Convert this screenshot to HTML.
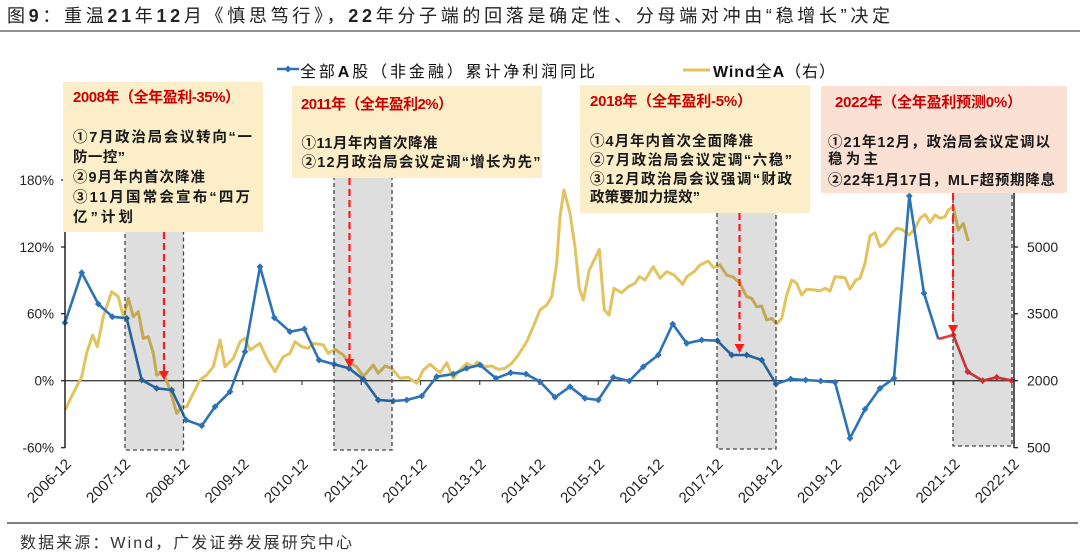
<!DOCTYPE html>
<html><head><meta charset="utf-8"><style>
html,body{margin:0;padding:0;background:#fff;}
svg{display:block;}
text{font-family:"Liberation Sans","Noto Sans CJK SC",sans-serif;}
</style></head><body>
<svg width="1080" height="556" viewBox="0 0 1080 556" xmlns="http://www.w3.org/2000/svg">
<defs>
<marker id="db" markerWidth="8" markerHeight="8" refX="4" refY="4" markerUnits="userSpaceOnUse"><path d="M4 0.6 L7.4 4 L4 7.4 L0.6 4Z" fill="#2b72b7"/></marker>
<marker id="dr" markerWidth="8" markerHeight="8" refX="4" refY="4" markerUnits="userSpaceOnUse"><path d="M4 0.6 L7.4 4 L4 7.4 L0.6 4Z" fill="#e83a3a"/></marker>
</defs>

<!-- Title -->
<text x="7" y="22" font-size="18" fill="#222" textLength="883" lengthAdjust="spacing">图<tspan font-weight="bold">9</tspan>：重温<tspan font-weight="bold">21</tspan>年<tspan font-weight="bold">12</tspan>月《慎思笃行》，<tspan font-weight="bold">22</tspan>年分子端的回落是确定性、分母端对冲由“稳增长”决定</text>
<line x1="0" y1="31" x2="1080" y2="31" stroke="#8f8f8f" stroke-width="2"/>

<!-- Legend -->
<line x1="277" y1="69" x2="299" y2="69" stroke="#2b72b7" stroke-width="2.5"/>
<path d="M288 65.5 L291.5 69 L288 72.5 L284.5 69Z" fill="#2b72b7"/>
<text x="300" y="77" font-size="16" fill="#111" textLength="295" lengthAdjust="spacing">全部<tspan font-weight="bold">A</tspan>股（非金融）累计净利润同比</text>
<line x1="683" y1="70" x2="710" y2="70" stroke="#e2c35f" stroke-width="3"/>
<text x="713" y="77" font-size="16" fill="#111" textLength="122" lengthAdjust="spacing"><tspan font-weight="bold">Wind</tspan>全<tspan font-weight="bold">A</tspan>（右）</text>

<!-- x axis line -->
<line x1="65" y1="380.7" x2="1014" y2="380.7" stroke="#444" stroke-width="1.3"/>
<g stroke="#444" stroke-width="1.2">
<line x1="125" y1="380.7" x2="125" y2="385"/>
<line x1="183.5" y1="380.7" x2="183.5" y2="385"/>
<line x1="242.75" y1="380.7" x2="242.75" y2="385"/>
<line x1="302" y1="380.7" x2="302" y2="385"/>
<line x1="361.25" y1="380.7" x2="361.25" y2="385"/>
<line x1="420.5" y1="380.7" x2="420.5" y2="385"/>
<line x1="479.75" y1="380.7" x2="479.75" y2="385"/>
<line x1="539" y1="380.7" x2="539" y2="385"/>
<line x1="598.25" y1="380.7" x2="598.25" y2="385"/>
<line x1="657.5" y1="380.7" x2="657.5" y2="385"/>
<line x1="716.75" y1="380.7" x2="716.75" y2="385"/>
<line x1="776" y1="380.7" x2="776" y2="385"/>
<line x1="835.25" y1="380.7" x2="835.25" y2="385"/>
<line x1="894.5" y1="380.7" x2="894.5" y2="385"/>
<line x1="953.75" y1="380.7" x2="953.75" y2="385"/>
</g>

<!-- Wind All A (yellow) -->
<polyline fill="none" stroke="#e2c35f" stroke-width="3" stroke-linejoin="round" points="65,410 73.3,393 81.7,376.7 86.7,353 92.7,335 97.3,346.7 103.3,316.7 111.7,291.7 118.3,296.7 123.3,316.7 128.3,298.3 133.3,316.7 138.3,311.7 143.3,338.3 148.3,336.7 153.3,353.3 156.7,375 160,373.3 165,376.7 170,390 176.7,413.3 181.7,406.7 186.7,406.7 193.3,393.3 200,380 206.7,375 213.3,366.7 220,340 225,366.7 233.3,358.3 240,341.7 245,338.3 250,350 260,343.3 266.7,358.3 275,371.7 283.3,356.7 290,353.3 295,341.7 301.7,346.7 308.3,348.3 313.3,343.3 323.3,345 328.3,353.3 335,349.3 343.3,355 350,363.3 356.7,366.7 363.3,376.7 373.3,365 378.3,373.3 385,366 391.7,368.3 400,378.3 408.3,377.3 416.7,383.3 423.3,370 430,364.3 436.7,370 440,372.7 446.7,362.7 453.3,378.3 460,370 466.7,363.3 473.3,366.7 477.3,362 485,366.7 491.7,366 498.3,369.3 505,368.3 511.7,363.3 518.3,355 526.7,341.7 533.3,326.7 540,310 546.7,305 551.7,296.7 556.7,263.3 560,216.7 564,190 570,213.3 575,246.7 579.3,288.3 583.3,300 589.3,270 595,258.3 599.3,249.3 604.3,310 609,315 614,288.3 621.7,292.7 628.3,286.7 635,283.3 639.3,276.7 645,280 653.3,266.7 660,278.3 666.7,271.7 674,275 682.7,284.3 686.7,276.7 694,271.7 700,265 708.3,261 713.3,267.5 720,265 726.7,275 733.3,277.3 740,283.3 746.7,296.7 751.7,298.3 756.7,306.7 761.7,306 766.7,320 771.7,318.3 776.7,324 781.7,318.3 786.7,295 791.7,280 796.7,283.3 801.7,295 806.7,289.3 815,290 820,291 825,288.3 830,291 835,276.7 840,277.3 845,277.7 850,289.3 856,280 860,278.3 865,263.3 870,236 875,232.7 880,246.7 885,243.3 891.7,233.3 896.7,228.3 901.7,229.3 909.3,235 915,228.3 920,218.3 925,214.3 930,222.7 935,215 940,218.3 945,216.7 948.3,210 953.3,206.7 958.3,230 963.3,223.3 968.3,241"/>

<!-- Blue series -->
<polyline fill="none" stroke="#2b72b7" stroke-width="2.6" stroke-linejoin="round" marker-start="url(#db)" marker-mid="url(#db)" points="65,322.7 81.7,272.7 98.3,304 112.3,316.7 126.7,318.3 141.7,380 156.7,388.3 171.7,390 186,420 201.7,425.7 215,406.7 230,391.7 245,351.7 260,266.7 274.3,317.7 290,331.7 304.3,329 319,360 334,364.3 349,368.3 363.3,379.3 378.3,400 393.3,401 406.7,400 421.7,396 436.7,376.7 453.3,374 466.7,368.3 480,365 496,378.3 510.7,372.7 526,374 540,381.7 555,397.3 570,386.7 585,398.3 598.3,400 613.3,377.3 629.3,381 643.3,366.7 658.3,355 672.7,324 686.7,343.3 701.7,340 717.3,340.7 731.7,355 746.7,355 761.7,360 776,384 790.7,379 805.7,380 820.7,381 835,382.3 850,438.3 865,409.3 880,388.3 894,378.3 909.3,196 924,293.3 938.3,339"/>
<!-- Red series -->
<polyline fill="none" stroke="#e83a3a" stroke-width="2.6" stroke-linejoin="round" marker-mid="url(#dr)" marker-end="url(#dr)" points="938.3,339 953.3,335 967.7,371.7 982.7,380.7 996.7,377.3 1011.7,380.7"/>

<!-- Gray shaded regions -->
<g fill="#000" fill-opacity="0.13" stroke="#444" stroke-width="1.3" stroke-dasharray="4,3">
<rect x="125" y="170" width="58.5" height="280"/>
<rect x="334" y="150" width="58" height="300"/>
<rect x="717" y="190" width="59" height="259"/>
<rect x="953" y="170" width="59" height="276"/>
</g>

<!-- Red arrows -->
<g stroke="#ff1a1a" stroke-width="2.2" stroke-dasharray="7,4">
<line x1="164" y1="232" x2="164" y2="372"/>
<line x1="349.5" y1="178" x2="349.5" y2="360"/>
<line x1="739.5" y1="213" x2="739.5" y2="345"/>
<line x1="953" y1="193" x2="953" y2="326"/>
</g>
<g fill="#ff1a1a">
<polygon points="159,371 169,371 164,380"/>
<polygon points="344.5,359 354.5,359 349.5,368"/>
<polygon points="734.5,344 744.5,344 739.5,353"/>
<polygon points="948,325 958,325 953,334"/>
</g>

<!-- Left axis -->
<line x1="65" y1="180" x2="65" y2="448" stroke="#222" stroke-width="1.5"/>
<g stroke="#222" stroke-width="1.3">
<line x1="61" y1="180" x2="65" y2="180"/>
<line x1="61" y1="247" x2="65" y2="247"/>
<line x1="61" y1="313.7" x2="65" y2="313.7"/>
<line x1="61" y1="380.7" x2="65" y2="380.7"/>
<line x1="61" y1="447.7" x2="65" y2="447.7"/>
</g>
<g font-size="13.5" fill="#222" text-anchor="end">
<text x="54" y="185">180%</text>
<text x="54" y="252">120%</text>
<text x="54" y="318.7">60%</text>
<text x="54" y="385.7">0%</text>
<text x="54" y="452.7">-60%</text>
</g>

<!-- Right axis -->
<line x1="1014" y1="180" x2="1014" y2="448" stroke="#222" stroke-width="1.5"/>
<g stroke="#222" stroke-width="1.3">
<line x1="1014" y1="247" x2="1018" y2="247"/>
<line x1="1014" y1="313.7" x2="1018" y2="313.7"/>
<line x1="1014" y1="380.7" x2="1018" y2="380.7"/>
<line x1="1014" y1="447.7" x2="1018" y2="447.7"/>
</g>
<g font-size="14" fill="#222">
<text x="1027" y="252">5000</text>
<text x="1027" y="318.7">3500</text>
<text x="1027" y="385.7">2000</text>
<text x="1027" y="452.7">500</text>
</g>

<!-- X labels -->
<g font-size="15" fill="#222" text-anchor="end">
<text transform="translate(72,465) rotate(-45)">2006-12</text>
<text transform="translate(131.25,465) rotate(-45)">2007-12</text>
<text transform="translate(190.5,465) rotate(-45)">2008-12</text>
<text transform="translate(249.75,465) rotate(-45)">2009-12</text>
<text transform="translate(309,465) rotate(-45)">2010-12</text>
<text transform="translate(368.25,465) rotate(-45)">2011-12</text>
<text transform="translate(427.5,465) rotate(-45)">2012-12</text>
<text transform="translate(486.75,465) rotate(-45)">2013-12</text>
<text transform="translate(546,465) rotate(-45)">2014-12</text>
<text transform="translate(605.25,465) rotate(-45)">2015-12</text>
<text transform="translate(664.5,465) rotate(-45)">2016-12</text>
<text transform="translate(723.75,465) rotate(-45)">2017-12</text>
<text transform="translate(783,465) rotate(-45)">2018-12</text>
<text transform="translate(842.25,465) rotate(-45)">2019-12</text>
<text transform="translate(901.5,465) rotate(-45)">2020-12</text>
<text transform="translate(960.75,465) rotate(-45)">2021-12</text>
<text transform="translate(1020,465) rotate(-45)">2022-12</text>
</g>

<!-- Annotation boxes -->
<rect x="63" y="82" width="200" height="150" fill="#fceec8"/>
<rect x="292" y="86" width="250" height="92" fill="#fceec8"/>
<rect x="580" y="85" width="230" height="128" fill="#fceec8"/>
<rect x="821" y="86" width="246" height="107" fill="#fae1d4"/>

<g font-size="15" font-weight="bold" fill="#cc0000">
<text x="73" y="102" textLength="167" lengthAdjust="spacing">2008年（全年盈利-35%）</text>
<text x="301" y="109" textLength="152" lengthAdjust="spacing">2011年（全年盈利2%）</text>
<text x="590" y="106" textLength="162" lengthAdjust="spacing">2018年（全年盈利-5%）</text>
<text x="835" y="107" textLength="187" lengthAdjust="spacing">2022年（全年盈利预测0%）</text>
</g>
<g font-size="14.5" font-weight="bold" fill="#1a1a1a">
<text x="73" y="142" textLength="179" lengthAdjust="spacing">①7月政治局会议转向“一</text>
<text x="73" y="162" textLength="52" lengthAdjust="spacing">防一控”</text>
<text x="73" y="182" textLength="132" lengthAdjust="spacing">②9月年内首次降准</text>
<text x="73" y="202" textLength="177" lengthAdjust="spacing">③11月国常会宣布“四万</text>
<text x="73" y="222" textLength="60" lengthAdjust="spacing">亿”计划</text>

<text x="301.5" y="148" textLength="136" lengthAdjust="spacing">①11月年内首次降准</text>
<text x="301.5" y="167" textLength="239" lengthAdjust="spacing">②12月政治局会议定调“增长为先”</text>

<text x="590" y="146" textLength="163" lengthAdjust="spacing">①4月年内首次全面降准</text>
<text x="590" y="165" textLength="202" lengthAdjust="spacing">②7月政治局会议定调“六稳”</text>
<text x="590" y="184" textLength="202" lengthAdjust="spacing">③12月政治局会议强调“财政</text>
<text x="590" y="202" textLength="110" lengthAdjust="spacing">政策要加力提效”</text>

<text x="828" y="147" textLength="222" lengthAdjust="spacing">①21年12月，政治局会议定调以</text>
<text x="828" y="164" textLength="50" lengthAdjust="spacing">稳为主</text>
<text x="828" y="185" textLength="227" lengthAdjust="spacing">②22年1月17日，MLF超预期降息</text>
</g>

<!-- Footer -->
<line x1="7" y1="523" x2="1078" y2="523" stroke="#333" stroke-width="1.3"/>
<text x="20" y="548" font-size="16" fill="#333" textLength="332" lengthAdjust="spacing">数据来源：Wind，广发证券发展研究中心</text>
</svg>
</body></html>
